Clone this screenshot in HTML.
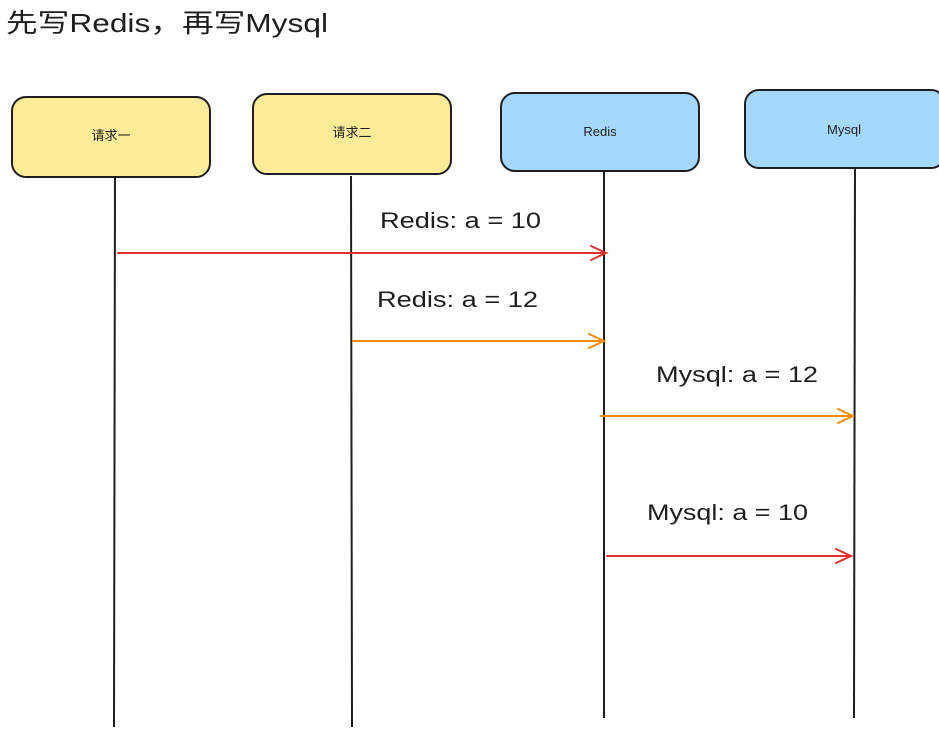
<!DOCTYPE html>
<html><head><meta charset="utf-8"><style>
html,body{margin:0;padding:0;background:#fff;width:939px;height:730px;overflow:hidden}
svg text{font-family:"Liberation Sans","Noto Sans CJK SC",sans-serif;fill:#1e1e1e}
</style></head><body>
<svg width="939" height="730" viewBox="0 0 939 730" xmlns="http://www.w3.org/2000/svg">
<text x="6" y="32" font-size="26" textLength="322" lengthAdjust="spacingAndGlyphs">先写Redis，再写Mysql</text>
<g stroke="#1e1e1e" stroke-width="2">
<rect x="12" y="97" width="198" height="80" rx="14" fill="#ffec99"/>
<rect x="253" y="94" width="198" height="80" rx="14" fill="#ffec99"/>
<rect x="501" y="93" width="198" height="78" rx="14" fill="#a5d8ff"/>
<rect x="745" y="90" width="200" height="78" rx="14" fill="#a5d8ff"/>
<line x1="115" y1="177" x2="114" y2="727"/>
<line x1="351" y1="176" x2="352" y2="727"/>
<line x1="604" y1="171" x2="604" y2="718"/>
<line x1="855" y1="168" x2="854" y2="718"/>
</g>
<text x="111" y="140" font-size="13" text-anchor="middle">请求一</text>
<text x="352" y="137" font-size="13" text-anchor="middle">请求二</text>
<text x="600" y="136" font-size="13" text-anchor="middle">Redis</text>
<text x="844" y="134" font-size="13" text-anchor="middle">Mysql</text>
<g fill="none" stroke-width="2" stroke-linecap="round">
<g stroke="#e03131"><line x1="118" y1="253" x2="606" y2="253"/><polyline points="591,246 606,253 591,260"/>
<line x1="607" y1="556" x2="851" y2="556"/><polyline points="836,549 851,556 836,563"/></g>
<g stroke="#f08c00"><line x1="353" y1="341" x2="604" y2="341"/><polyline points="589,334 604,341 589,348"/>
<line x1="601" y1="416" x2="853" y2="416"/><polyline points="838,409 853,416 838,423"/></g>
</g>
<text x="380" y="228" font-size="22" textLength="161" lengthAdjust="spacingAndGlyphs">Redis: a = 10</text>
<text x="377" y="307" font-size="22" textLength="161" lengthAdjust="spacingAndGlyphs">Redis: a = 12</text>
<text x="656" y="382" font-size="22" textLength="162" lengthAdjust="spacingAndGlyphs">Mysql: a = 12</text>
<text x="647" y="520" font-size="22" textLength="161" lengthAdjust="spacingAndGlyphs">Mysql: a = 10</text>
</svg>
</body></html>
